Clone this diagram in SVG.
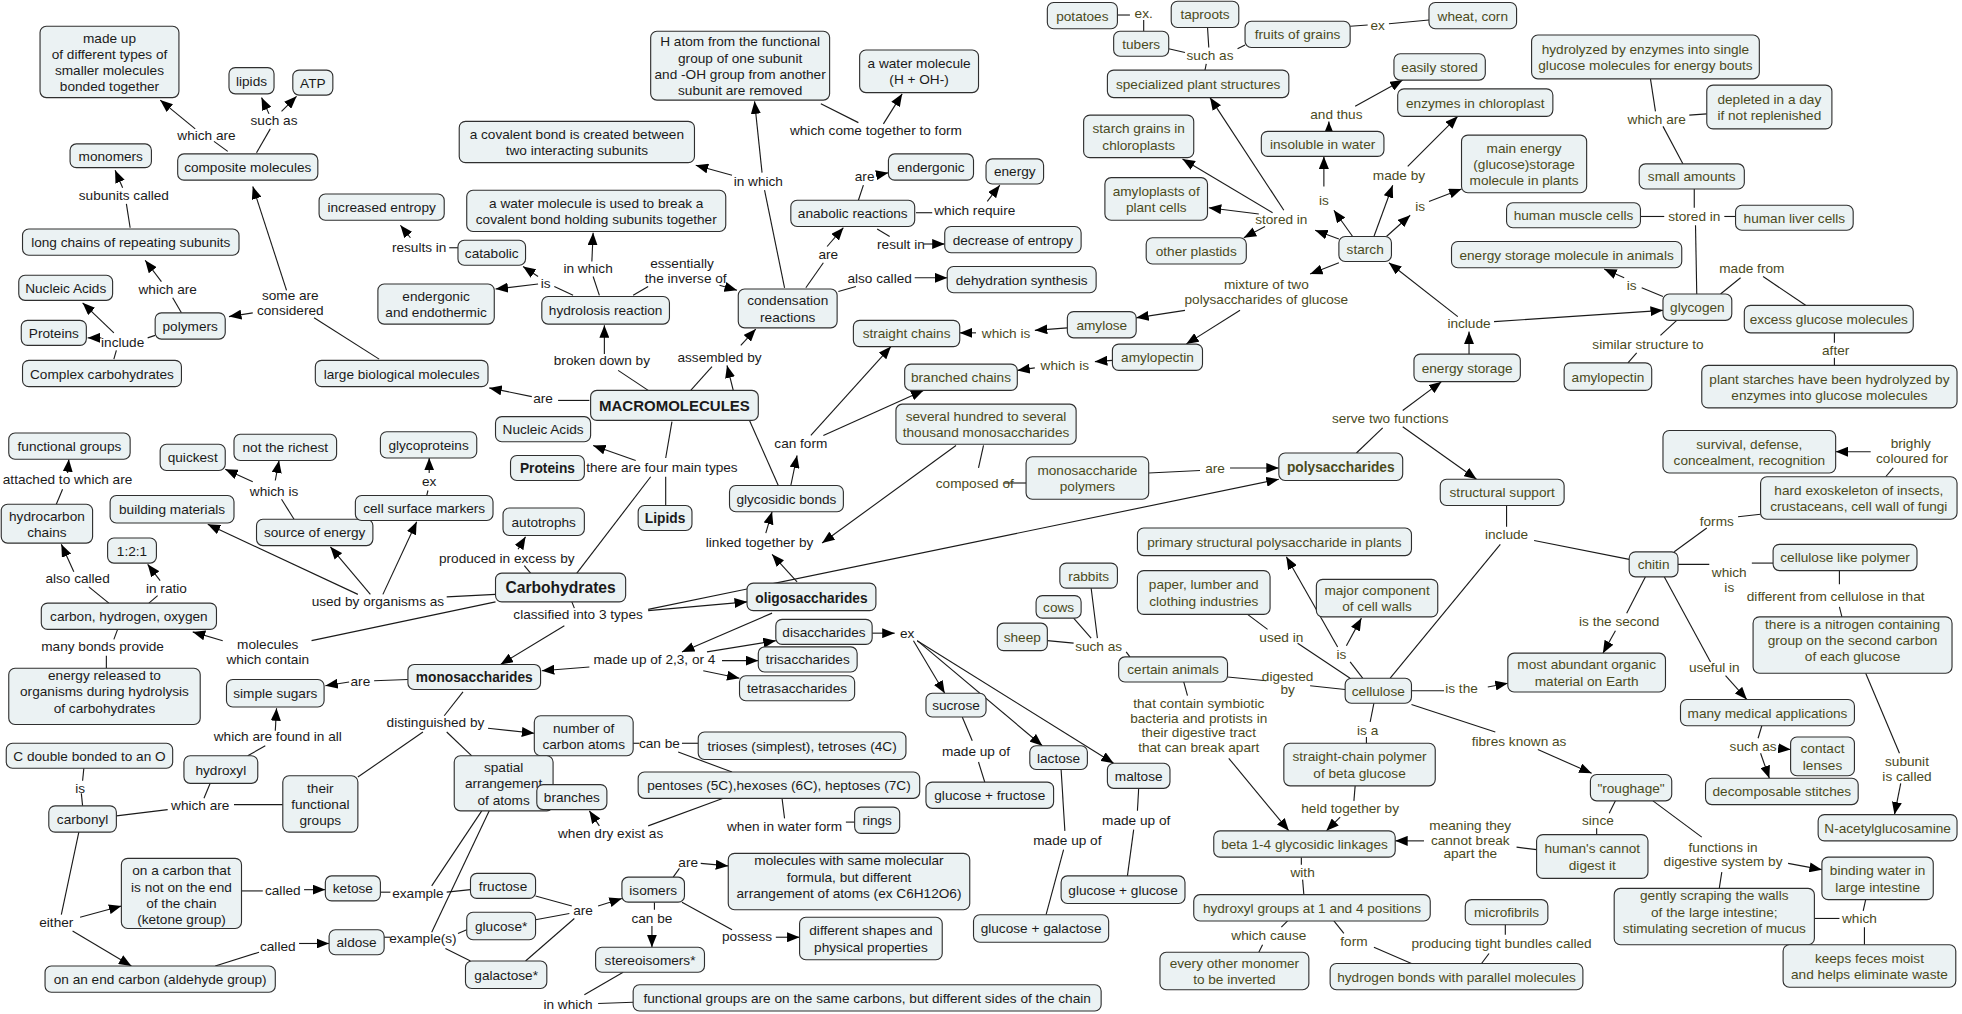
<svg xmlns="http://www.w3.org/2000/svg" width="1962" height="1014" viewBox="0 0 1962 1014">
<style>
.n rect{fill:#ebf2f3;stroke:#2f2f2f;stroke-width:0.9}
text{font-family:"Liberation Sans",Arial,sans-serif;font-size:10.9px;fill:#1a1a1a;text-anchor:middle}
.o text,text.o{fill:#4a4a1c}
.b text{font-weight:bold;font-size:12px}
#connectors path{fill:none;stroke:#1a1a1a;stroke-width:0.9}
#connectors path.a{marker-end:url(#ah)}
</style>
<defs><marker id="ah" markerUnits="userSpaceOnUse" markerWidth="10" markerHeight="8" refX="10" refY="4" orient="auto"><path d="M0,0 L10,4 L0,8 z" fill="#000"/></marker></defs>
<rect width="1962" height="1014" fill="#fff"/>
<g transform="scale(1.2513)">
<g id="connectors">
<path d="M182,121L171,113"/><path class="a" d="M156,103L128,80"/>
<path d="M205,122L216,103"/><path class="a" d="M215,91L209,78"/><path class="a" d="M225,89L237,77"/>
<path d="M104,182L101,163"/><path class="a" d="M98,150L92,136"/>
<path d="M145,250L138,238"/><path class="a" d="M129,225L116,208"/>
<path d="M124,268L118,270"/><path class="a" d="M91,266L66,242"/><path class="a" d="M81,270L70,270"/><path d="M91,287L93,280"/>
<path d="M303,287L251,254"/><path class="a" d="M229,232L202,149"/><path class="a" d="M202,250L183,253"/>
<path d="M366,198L359,198"/><path class="a" d="M328,190L320,180"/>
<path d="M458,236L443,229"/><path class="a" d="M430,221L418,213"/><path class="a" d="M430,227L396,231"/>
<path d="M479,236L474,221"/><path class="a" d="M473,209L474,186"/>
<path d="M506,236L518,229"/><path class="a" d="M575,228L589,232"/>
<path d="M518,312L494,296"/><path class="a" d="M483,283L483,260"/>
<path d="M471,320L446,320"/><path class="a" d="M425,317L391,310"/>
<path d="M552,312L569,293"/><path class="a" d="M586,312L581,292"/><path class="a" d="M592,276L604,263"/>
<path d="M627,230L611,152"/><path class="a" d="M609,138L603,81"/><path class="a" d="M585,140L556,132"/>
<path d="M656,83L686,98"/><path class="a" d="M706,99L721,75"/>
<path d="M644,230L658,210"/><path class="a" d="M661,197L674,182"/>
<path d="M686,160L690,148"/><path class="a" d="M700,140L710,138"/>
<path d="M732,170L745,170"/><path class="a" d="M789,161L799,148"/>
<path d="M701,183L711,189"/><path class="a" d="M738,195L755,195"/>
<path d="M670,233L684,229"/><path class="a" d="M731,222L757,222"/>
<path d="M537,337L532,366"/><path class="a" d="M508,368L474,356"/><path d="M532,381L532,404"/><path d="M520,381L461,458"/>
<path d="M599,336L622,388"/><path class="a" d="M632,388L637,364"/><path class="a" d="M648,348L712,277"/><path class="a" d="M658,348L738,312"/>
<path class="a" d="M637,465L617,443"/><path class="a" d="M612,426L617,409"/><path class="a" d="M764,356L657,434"/>
<path d="M786,356L782,374"/><path d="M802,386L820,386"/>
<path d="M918,378L959,376"/><path class="a" d="M983,374L1022,374"/>
<path class="a" d="M518,487L1022,383"/><path class="a" d="M518,488L597,481"/><path class="a" d="M451,500L400,531"/><path d="M457,481L459,486"/>
<path d="M45,403L50,391"/><path class="a" d="M54,378L55,367"/>
<path d="M235,415L225,399"/><path class="a" d="M202,385L180,375"/><path class="a" d="M220,384L223,368"/>
<path d="M341,396L342,392"/><path class="a" d="M343,378L343,366"/>
<path d="M396,475L357,477"/><path class="a" d="M286,475L166,419"/><path class="a" d="M296,475L264,437"/><path class="a" d="M306,475L333,417"/>
<path d="M424,458L419,452"/><path class="a" d="M414,439L420,429"/>
<path d="M396,481L249,512"/><path class="a" d="M178,512L154,505"/>
<path d="M87,482L71,469"/><path class="a" d="M59,457L49,435"/>
<path d="M119,482L126,476"/><path class="a" d="M128,464L118,451"/>
<path d="M94,503L91,511"/><path d="M85,524L85,534"/>
<path d="M326,543L299,544"/><path class="a" d="M279,545L260,548"/>
<path d="M370,553L355,572"/><path class="a" d="M390,582L427,586"/><path d="M357,585L377,604"/><path d="M338,585L286,621"/>
<path d="M198,604L212,596"/><path class="a" d="M220,584L221,566"/>
<path d="M93,652L134,647"/><path d="M187,643L226,643"/><path d="M163,638L168,626"/>
<path d="M67,614L66,624"/><path d="M65,634L66,644"/>
<path d="M63,665L49,731"/><path class="a" d="M64,733L97,724"/><path class="a" d="M58,744L105,772"/>
<path d="M193,712L210,712"/><path class="a" d="M243,711L260,711"/>
<path d="M172,772L207,761"/><path class="a" d="M239,754L263,754"/>
<path d="M304,713L312,713"/><path d="M357,713L376,711"/><path d="M345,708L385,648"/>
<path d="M307,749L312,749"/><path d="M366,746L373,743"/><path d="M356,758L376,768"/><path d="M345,745L391,648"/>
<path d="M428,716L457,724"/><path d="M428,735L455,730"/><path d="M420,768L459,734"/><path class="a" d="M478,724L497,718"/>
<path d="M506,594L511,594"/><path d="M545,594L558,594"/><path d="M542,601L585,617"/>
<path d="M625,638L627,654"/><path d="M676,657L683,657"/>
<path d="M578,638L518,660"/><path class="a" d="M479,660L471,648"/>
<path d="M538,701L543,694"/><path class="a" d="M560,690L582,692"/>
<path d="M523,721L523,727"/><path class="a" d="M521,740L521,757"/>
<path d="M545,721L585,743"/><path class="a" d="M620,749L639,749"/>
<path d="M498,777L467,795"/><path d="M478,802L506,801"/>
<path class="a" d="M697,506L715,506"/><path class="a" d="M730,512L755,554"/><path class="a" d="M733,512L833,596"/><path class="a" d="M733,512L890,610"/>
<path class="a" d="M617,490L545,521"/><path class="a" d="M565,521L620,512"/><path class="a" d="M577,528L606,528"/><path class="a" d="M562,536L591,542"/><path class="a" d="M471,533L433,536"/>
<path d="M769,573L777,592"/><path d="M782,609L787,625"/>
<path d="M848,615L851,664"/><path d="M850,679L836,731"/>
<path d="M910,630L909,648"/><path d="M906,663L901,700"/>
<path d="M837,512L858,514"/><path d="M858,494L872,510"/><path d="M872,470L877,510"/><path d="M900,521L903,525"/>
<path d="M946,545L949,556"/><path class="a" d="M982,606L1030,664"/>
<path d="M981,541L1012,544"/><path d="M1047,548L1075,551"/>
<path d="M997,491L1013,503"/><path d="M1037,514L1079,542"/>
<path d="M1089,542L1079,529"/><path class="a" d="M1076,516L1088,494"/><path class="a" d="M1069,517L1028,445"/>
<path d="M1204,404L1204,421"/><path d="M1226,432L1302,447"/><path d="M1199,435L1111,542"/>
<path d="M1128,552L1154,552"/><path class="a" d="M1189,549L1205,546"/>
<path d="M1098,562L1095,577"/><path d="M1092,589L1092,594"/>
<path d="M1083,628L1082,640"/><path class="a" d="M1071,653L1060,664"/>
<path d="M1128,563L1195,585"/><path class="a" d="M1229,599L1272,618"/>
<path d="M1291,640L1286,650"/><path d="M1276,662L1276,667"/>
<path d="M1228,679L1212,677"/><path class="a" d="M1138,672L1115,672"/>
<path d="M1321,640L1360,669"/><path class="a" d="M1429,690L1456,695"/><path d="M1376,697L1374,710"/>
<path d="M1491,719L1489,728"/><path d="M1450,734L1470,734"/><path d="M1490,741L1490,755"/>
<path d="M1338,441L1364,422"/><path d="M1389,413L1407,411"/>
<path d="M1507,381L1513,374"/><path class="a" d="M1495,361L1467,361"/>
<path d="M1341,451L1366,451"/><path d="M1400,450L1417,450"/>
<path d="M1470,456L1470,467"/><path d="M1470,485L1472,493"/>
<path d="M1491,538L1518,602"/><path class="a" d="M1519,626L1514,651"/>
<path d="M1315,461L1300,490"/><path class="a" d="M1291,504L1281,522"/>
<path d="M1330,461L1367,529"/><path class="a" d="M1379,540L1396,559"/>
<path d="M1408,580L1405,590"/><path class="a" d="M1421,598L1431,599"/><path class="a" d="M1407,602L1414,622"/>
<path d="M1040,685L1040,691"/><path d="M1041,703L1042,715"/>
<path d="M1029,736L1024,741"/><path d="M1009,755L1006,761"/>
<path d="M1066,736L1074,746"/><path d="M1098,757L1128,770"/>
<path d="M1203,739L1203,747"/><path d="M1190,762L1184,770"/>
<path d="M893,12L903,12"/><path d="M914,25L914,16"/>
<path d="M934,39L947,42"/><path d="M965,22L966,38"/><path d="M995,36L989,39"/><path d="M964,51L963,56"/>
<path d="M1079,21L1093,20"/><path d="M1110,19L1142,16"/>
<path class="a" d="M1070,191L1051,184"/><path class="a" d="M1026,168L967,78"/><path class="a" d="M1017,170L945,127"/><path class="a" d="M1006,171L966,166"/><path class="a" d="M1011,181L994,190"/>
<path class="a" d="M1081,189L1066,168"/><path class="a" d="M1058,149L1058,125"/>
<path class="a" d="M1062,105L1062,97"/><path class="a" d="M1083,85L1121,64"/>
<path class="a" d="M1098,189L1113,148"/><path class="a" d="M1125,133L1165,93"/>
<path class="a" d="M1108,189L1127,172"/><path class="a" d="M1142,161L1168,151"/>
<path class="a" d="M1070,210L1047,219"/><path class="a" d="M947,248L908,254"/><path class="a" d="M991,248L948,275"/>
<path class="a" d="M853,262L827,264"/><path class="a" d="M780,266L767,266"/>
<path class="a" d="M889,288L875,289"/><path class="a" d="M827,294L813,296"/>
<path class="a" d="M1174,283L1174,265"/><path class="a" d="M1165,253L1110,210"/><path class="a" d="M1194,257L1329,248"/>
<path d="M1084,362L1105,342"/><path class="a" d="M1121,328L1152,305"/><path class="a" d="M1121,341L1180,383"/>
<path d="M1329,237L1312,230"/><path class="a" d="M1298,222L1282,215"/>
<path d="M1340,256L1327,268"/><path d="M1308,282L1301,290"/>
<path d="M1375,235L1391,222"/><path d="M1409,221L1443,244"/>
<path d="M1466,266L1466,274"/><path d="M1466,286L1466,292"/>
<path d="M1311,173L1330,173"/><path d="M1378,173L1387,173"/><path d="M1354,151L1354,166"/><path d="M1355,180L1356,235"/>
<path d="M1319,63L1323,89"/><path d="M1329,101L1345,131"/><path d="M1350,92L1364,91"/>
</g>
<g id="link-labels">
<text x="165" y="112">which are</text><text x="219" y="100">such as</text><text x="99" y="160">subunits called</text>
<text x="134" y="235">which are</text><text x="98" y="277">include</text>
<text x="232" y="240">some are</text><text x="232" y="252">considered</text>
<text x="335" y="201">results in</text><text x="436" y="230">is</text><text x="470" y="218">in which</text>
<text x="545" y="214">essentially</text><text x="548" y="226">the inverse of</text>
<text x="481" y="292">broken down by</text><text x="434" y="322">are</text><text x="575" y="289">assembled by</text>
<text x="606" y="149">in which</text><text x="700" y="108">which come together to form</text>
<text x="662" y="207">are</text><text x="691" y="145">are</text><text x="779" y="172">which require</text>
<text x="720" y="199">result in</text><text x="703" y="226">also called</text>
<text x="529" y="377">there are four main types</text><text x="640" y="358">can form</text><text x="607" y="437">linked together by</text>
<text class="o" x="779" y="390">composed of</text><text class="o" x="971" y="378">are</text>
<text class="o" x="804" y="270">which is</text><text class="o" x="851" y="296">which is</text>
<text class="o" x="1012" y="231">mixture of two</text><text class="o" x="1012" y="243">polysaccharides of glucose</text>
<text class="o" x="1024" y="179">stored in</text><text class="o" x="914" y="14">ex.</text><text class="o" x="967" y="48">such as</text>
<text class="o" x="1101" y="24">ex</text><text class="o" x="1058" y="164">is</text><text class="o" x="1068" y="95">and thus</text>
<text class="o" x="1118" y="144">made by</text><text class="o" x="1135" y="169">is</text><text class="o" x="1174" y="262">include</text>
<text class="o" x="1111" y="338">serve two functions</text><text class="o" x="1324" y="99">which are</text><text class="o" x="1354" y="177">stored in</text>
<text class="o" x="1304" y="232">is</text><text class="o" x="1400" y="218">made from</text><text class="o" x="1317" y="279">similar structure to</text>
<text class="o" x="1467" y="284">after</text><text class="o" x="1527" y="358">brighly</text><text class="o" x="1528" y="370">coloured for</text>
<text x="54" y="387">attached to which are</text><text x="219" y="396">which is</text><text x="343" y="388">ex</text>
<text x="302" y="484">used by organisms as</text><text x="405" y="450">produced in excess by</text><text x="462" y="495">classified into 3 types</text>
<text x="214" y="519">molecules</text><text x="214" y="531">which contain</text>
<text x="62" y="466">also called</text><text x="133" y="474">in ratio</text><text x="82" y="520">many bonds provide</text>
<text x="288" y="548">are</text><text x="348" y="581">distinguished by</text><text x="222" y="592">which are found in all</text>
<text x="160" y="647">which are</text><text x="64" y="634">is</text><text x="45" y="741">either</text>
<text x="226" y="715">called</text><text x="222" y="760">called</text><text x="334" y="718">example</text><text x="338" y="754">example(s)</text>
<text x="466" y="731">are</text><text x="527" y="598">can be</text><text x="627" y="664">when in water form</text><text x="488" y="670">when dry exist as</text>
<text x="550" y="693">are</text><text x="521" y="738">can be</text><text x="597" y="752">possess</text><text x="454" y="806">in which</text>
<text x="725" y="510">ex</text><text x="523" y="531">made up of 2,3, or 4</text>
<text x="780" y="604">made up of</text><text x="853" y="675">made up of</text><text x="908" y="659">made up of</text>
<text class="o" x="878" y="520">such as</text>
<text class="o" x="958" y="566">that contain symbiotic</text><text class="o" x="958" y="578">bacteria and protists in</text><text class="o" x="958" y="589">their digestive tract</text><text class="o" x="958" y="601">that can break apart</text>
<text class="o" x="1029" y="544">digested</text><text class="o" x="1029" y="555">by</text>
<text class="o" x="1024" y="513">used in</text><text class="o" x="1072" y="527">is</text><text class="o" x="1204" y="431">include</text>
<text class="o" x="1168" y="554">is the</text><text class="o" x="1093" y="587">is a</text><text class="o" x="1079" y="650">held together by</text>
<text class="o" x="1277" y="659">since</text>
<text class="o" x="1175" y="663">meaning they</text><text class="o" x="1175" y="675">cannot break</text><text class="o" x="1175" y="686">apart the</text>
<text class="o" x="1214" y="596">fibres known as</text>
<text class="o" x="1377" y="681">functions in</text><text class="o" x="1377" y="692">digestive system by</text>
<text class="o" x="1486" y="738">which</text><text class="o" x="1372" y="420">forms</text>
<text class="o" x="1382" y="461">which</text><text class="o" x="1382" y="473">is</text>
<text class="o" x="1467" y="480">different from cellulose in that</text>
<text class="o" x="1524" y="612">subunit</text><text class="o" x="1524" y="624">is called</text>
<text class="o" x="1294" y="500">is the second</text><text class="o" x="1370" y="537">useful in</text><text class="o" x="1401" y="600">such as</text>
<text class="o" x="1041" y="701">with</text><text class="o" x="1014" y="751">which cause</text><text class="o" x="1082" y="756">form</text>
<text class="o" x="1200" y="758">producing tight bundles called</text>
</g>
<g id="n1" class="n"><rect x="32" y="21" width="111" height="57" rx="5"/><text x="87.5" y="34">made up</text><text x="87.5" y="47">of different types of</text><text x="87.5" y="60">smaller molecules</text><text x="87.5" y="73">bonded together</text></g>
<g id="n2" class="n"><rect x="183" y="54" width="36" height="21" rx="5"/><text x="201" y="68.5">lipids</text></g>
<g id="n3" class="n"><rect x="234" y="56" width="32" height="20" rx="5"/><text x="250" y="70">ATP</text></g>
<g id="n4" class="n"><rect x="142" y="123" width="112" height="21" rx="5"/><text x="198" y="137.5">composite molecules</text></g>
<g id="n5" class="n"><rect x="56" y="115" width="65" height="19" rx="5"/><text x="88.5" y="128.5">monomers</text></g>
<g id="n6" class="n"><rect x="18" y="183" width="173" height="21" rx="5"/><text x="104.5" y="197.5">long chains of repeating subunits</text></g>
<g id="n7" class="n"><rect x="15" y="220" width="75" height="20" rx="5"/><text x="52.5" y="234">Nucleic Acids</text></g>
<g id="n8" class="n"><rect x="17" y="256" width="52" height="20" rx="5"/><text x="43" y="270">Proteins</text></g>
<g id="n9" class="n"><rect x="124" y="250" width="56" height="21" rx="5"/><text x="152" y="264.5">polymers</text></g>
<g id="n10" class="n"><rect x="18" y="288" width="127" height="21" rx="5"/><text x="81.5" y="302.5">Complex carbohydrates</text></g>
<g id="n11" class="n"><rect x="252" y="288" width="138" height="21" rx="5"/><text x="321" y="302.5">large biological molecules</text></g>
<g id="n12" class="n"><rect x="520" y="25" width="143" height="55" rx="5"/><text x="591.5" y="37">H atom from the functional</text><text x="591.5" y="50">group of one subunit</text><text x="591.5" y="63">and -OH group from another</text><text x="591.5" y="76">subunit are removed</text></g>
<g id="n13" class="n"><rect x="687" y="40" width="95" height="34" rx="5"/><text x="734.5" y="54.5">a water molecule</text><text x="734.5" y="67.5">(H + OH-)</text></g>
<g id="n14" class="n"><rect x="367" y="97" width="188" height="33" rx="5"/><text x="461" y="111">a covalent bond is created between</text><text x="461" y="124">two interacting subunits</text></g>
<g id="n15" class="n"><rect x="373" y="152" width="207" height="33" rx="5"/><text x="476.5" y="166">a water molecule is used to break a</text><text x="476.5" y="179">covalent bond holding subunits together</text></g>
<g id="n16" class="n"><rect x="255" y="155" width="100" height="21" rx="5"/><text x="305" y="169.5">increased entropy</text></g>
<g id="n17" class="n"><rect x="366" y="192" width="54" height="20" rx="5"/><text x="393" y="206">catabolic</text></g>
<g id="n18" class="n"><rect x="302" y="227" width="93" height="32" rx="5"/><text x="348.5" y="240.5">endergonic</text><text x="348.5" y="253.5">and endothermic</text></g>
<g id="n19" class="n"><rect x="433" y="237" width="102" height="22" rx="5"/><text x="484" y="252">hydrolosis reaction</text></g>
<g id="n20" class="n"><rect x="590" y="231" width="79" height="31" rx="5"/><text x="629.5" y="244">condensation</text><text x="629.5" y="257">reactions</text></g>
<g id="n21" class="n"><rect x="632" y="160" width="99" height="21" rx="5"/><text x="681.5" y="174.5">anabolic reactions</text></g>
<g id="n22" class="n"><rect x="710" y="123" width="68" height="21" rx="5"/><text x="744" y="137.5">endergonic</text></g>
<g id="n23" class="n"><rect x="788" y="127" width="46" height="20" rx="5"/><text x="811" y="141">energy</text></g>
<g id="n24" class="n"><rect x="755" y="181" width="109" height="21" rx="5"/><text x="809.5" y="195.5">decrease of entropy</text></g>
<g id="n25" class="n"><rect x="757" y="213" width="119" height="21" rx="5"/><text x="816.5" y="227.5">dehydration synthesis</text></g>
<g id="n26" class="n b"><rect x="472" y="312" width="134" height="24" rx="5"/><text x="539" y="328.5">MACROMOLECULES</text></g>
<g id="n27" class="n"><rect x="396" y="333" width="76" height="20" rx="5"/><text x="434" y="347">Nucleic Acids</text></g>
<g id="n28" class="n b"><rect x="408" y="364" width="59" height="20" rx="5"/><text x="437.5" y="378" style="font-size:11px">Proteins</text></g>
<g id="n29" class="n b"><rect x="510" y="404" width="43" height="20" rx="5"/><text x="531.5" y="418" style="font-size:11px">Lipids</text></g>
<g id="n30" class="n"><rect x="583" y="388" width="91" height="21" rx="5"/><text x="628.5" y="402.5">glycosidic bonds</text></g>
<g id="n31" class="n o"><rect x="682" y="256" width="85" height="21" rx="5"/><text x="724.5" y="270.5">straight chains</text></g>
<g id="n32" class="n o"><rect x="723" y="291" width="90" height="21" rx="5"/><text x="768" y="305.5">branched chains</text></g>
<g id="n33" class="n o"><rect x="716" y="323" width="144" height="32" rx="5"/><text x="788" y="336.5">several hundred to several</text><text x="788" y="349.5">thousand monosaccharides</text></g>
<g id="n34" class="n o"><rect x="820" y="365" width="98" height="34" rx="5"/><text x="869" y="379.5">monosaccharide</text><text x="869" y="392.5">polymers</text></g>
<g id="n35" class="n o b"><rect x="1022" y="362" width="99" height="22" rx="5"/><text x="1071.5" y="377" style="font-size:11px">polysaccharides</text></g>
<g id="n36" class="n o"><rect x="853" y="249" width="55" height="21" rx="5"/><text x="880.5" y="263.5">amylose</text></g>
<g id="n37" class="n o"><rect x="889" y="275" width="72" height="21" rx="5"/><text x="925" y="289.5">amylopectin</text></g>
<g id="n38" class="n o"><rect x="837" y="2" width="56" height="21" rx="5"/><text x="865" y="16.5">potatoes</text></g>
<g id="n39" class="n o"><rect x="936" y="1" width="54" height="21" rx="5"/><text x="963" y="15.5">taproots</text></g>
<g id="n40" class="n o"><rect x="890" y="25" width="44" height="20" rx="5"/><text x="912" y="39">tubers</text></g>
<g id="n41" class="n o"><rect x="995" y="17" width="84" height="21" rx="5"/><text x="1037" y="31.5">fruits of grains</text></g>
<g id="n42" class="n o"><rect x="1142" y="2" width="70" height="21" rx="5"/><text x="1177" y="16.5">wheat, corn</text></g>
<g id="n43" class="n o"><rect x="885" y="56" width="145" height="22" rx="5"/><text x="957.5" y="71">specialized plant structures</text></g>
<g id="n44" class="n o"><rect x="866" y="92" width="88" height="34" rx="5"/><text x="910" y="106.5">starch grains in</text><text x="910" y="119.5">chloroplasts</text></g>
<g id="n45" class="n o"><rect x="883" y="142" width="82" height="34" rx="5"/><text x="924" y="156.5">amyloplasts of</text><text x="924" y="169.5">plant cells</text></g>
<g id="n46" class="n o"><rect x="916" y="190" width="80" height="21" rx="5"/><text x="956" y="204.5">other plastids</text></g>
<g id="n47" class="n o"><rect x="1008" y="105" width="98" height="20" rx="5"/><text x="1057" y="119">insoluble in water</text></g>
<g id="n48" class="n o"><rect x="1114" y="43" width="73" height="21" rx="5"/><text x="1150.5" y="57.5">easily stored</text></g>
<g id="n49" class="n o"><rect x="1117" y="71" width="124" height="22" rx="5"/><text x="1179" y="86">enzymes in chloroplast</text></g>
<g id="n50" class="n o"><rect x="1168" y="108" width="100" height="46" rx="5"/><text x="1218" y="122">main energy</text><text x="1218" y="135">(glucose)storage</text><text x="1218" y="148">molecule in plants</text></g>
<g id="n51" class="n o"><rect x="1070" y="189" width="42" height="20" rx="5"/><text x="1091" y="203">starch</text></g>
<g id="n52" class="n o"><rect x="1224" y="28" width="182" height="35" rx="5"/><text x="1315" y="43">hydrolyzed by enzymes into single</text><text x="1315" y="56">glucose molecules for energy bouts</text></g>
<g id="n53" class="n o"><rect x="1364" y="68" width="100" height="35" rx="5"/><text x="1414" y="83">depleted in a day</text><text x="1414" y="96">if not replenished</text></g>
<g id="n54" class="n o"><rect x="1310" y="131" width="84" height="20" rx="5"/><text x="1352" y="145">small amounts</text></g>
<g id="n55" class="n o"><rect x="1204" y="162" width="107" height="20" rx="5"/><text x="1257.5" y="176">human muscle cells</text></g>
<g id="n56" class="n o"><rect x="1387" y="164" width="94" height="20" rx="5"/><text x="1434" y="178">human liver cells</text></g>
<g id="n57" class="n o"><rect x="1160" y="193" width="184" height="21" rx="5"/><text x="1252" y="207.5">energy storage molecule in animals</text></g>
<g id="n58" class="n o"><rect x="1329" y="235" width="55" height="21" rx="5"/><text x="1356.5" y="249.5">glycogen</text></g>
<g id="n59" class="n o"><rect x="1394" y="244" width="135" height="22" rx="5"/><text x="1461.5" y="259">excess glucose molecules</text></g>
<g id="n60" class="n o"><rect x="1250" y="290" width="70" height="22" rx="5"/><text x="1285" y="305">amylopectin</text></g>
<g id="n61" class="n o"><rect x="1360" y="292" width="204" height="34" rx="5"/><text x="1462" y="306.5">plant starches have been hydrolyzed by</text><text x="1462" y="319.5">enzymes into glucose molecules</text></g>
<g id="n62" class="n o"><rect x="1130" y="283" width="85" height="22" rx="5"/><text x="1172.5" y="298">energy storage</text></g>
<g id="n63" class="n o"><rect x="1151" y="383" width="99" height="21" rx="5"/><text x="1200.5" y="397.5">structural support</text></g>
<g id="n64" class="n o"><rect x="1329" y="344" width="138" height="34" rx="5"/><text x="1398" y="358.5">survival, defense,</text><text x="1398" y="371.5">concealment, recognition</text></g>
<g id="n65" class="n o"><rect x="1407" y="381" width="157" height="34" rx="5"/><text x="1485.5" y="395.5">hard exoskeleton of insects,</text><text x="1485.5" y="408.5">crustaceans, cell wall of fungi</text></g>
<g id="n66" class="n"><rect x="7" y="346" width="97" height="21" rx="5"/><text x="55.5" y="360.5">functional groups</text></g>
<g id="n67" class="n"><rect x="128" y="355" width="52" height="21" rx="5"/><text x="154" y="369.5">quickest</text></g>
<g id="n68" class="n"><rect x="187" y="347" width="82" height="21" rx="5"/><text x="228" y="361.5">not the richest</text></g>
<g id="n69" class="n"><rect x="304" y="345" width="77" height="21" rx="5"/><text x="342.5" y="359.5">glycoproteins</text></g>
<g id="n70" class="n"><rect x="1" y="403" width="73" height="31" rx="5"/><text x="37.5" y="416">hydrocarbon</text><text x="37.5" y="429">chains</text></g>
<g id="n71" class="n"><rect x="88" y="396" width="99" height="22" rx="5"/><text x="137.5" y="411">building materials</text></g>
<g id="n72" class="n"><rect x="205" y="415" width="93" height="21" rx="5"/><text x="251.5" y="429.5">source of energy</text></g>
<g id="n73" class="n"><rect x="284" y="396" width="110" height="20" rx="5"/><text x="339" y="410">cell surface markers</text></g>
<g id="n74" class="n"><rect x="402" y="406" width="65" height="22" rx="5"/><text x="434.5" y="421">autotrophs</text></g>
<g id="n75" class="n"><rect x="86" y="430" width="39" height="20" rx="5"/><text x="105.5" y="444">1:2:1</text></g>
<g id="n76" class="n b"><rect x="396" y="458" width="104" height="23" rx="5"/><text x="448" y="474" style="font-size:12.5px">Carbohydrates</text></g>
<g id="n77" class="n"><rect x="33" y="482" width="140" height="21" rx="5"/><text x="103" y="496.5">carbon, hydrogen, oxygen</text></g>
<g id="n78" class="n"><rect x="7" y="534" width="153" height="45" rx="5"/><text x="83.5" y="543.5">energy released to</text><text x="83.5" y="556.5">organisms during hydrolysis</text><text x="83.5" y="569.5">of carbohydrates</text></g>
<g id="n79" class="n b"><rect x="597" y="466" width="103" height="22" rx="5"/><text x="648.5" y="481.5" style="font-size:11px">oligosaccharides</text></g>
<g id="n80" class="n"><rect x="620" y="495" width="77" height="20" rx="5"/><text x="658.5" y="509">disaccharides</text></g>
<g id="n81" class="n"><rect x="606" y="517" width="79" height="20" rx="5"/><text x="645.5" y="531">trisaccharides</text></g>
<g id="n82" class="n"><rect x="591" y="540" width="92" height="20" rx="5"/><text x="637" y="554">tetrasaccharides</text></g>
<g id="n83" class="n b"><rect x="326" y="531" width="106" height="20" rx="5"/><text x="379" y="545" style="font-size:11px">monosaccharides</text></g>
<g id="n84" class="n"><rect x="181" y="543" width="78" height="22" rx="5"/><text x="220" y="558">simple sugars</text></g>
<g id="n85" class="n"><rect x="5" y="594" width="133" height="20" rx="5"/><text x="71.5" y="608">C double bonded to an O</text></g>
<g id="n86" class="n"><rect x="147" y="604" width="59" height="22" rx="5"/><text x="176.5" y="619">hydroxyl</text></g>
<g id="n87" class="n"><rect x="39" y="644" width="54" height="21" rx="5"/><text x="66" y="658.5">carbonyl</text></g>
<g id="n88" class="n"><rect x="226" y="620" width="60" height="45" rx="5"/><text x="256" y="633.5">their</text><text x="256" y="646.5">functional</text><text x="256" y="659.5">groups</text></g>
<g id="n89" class="n"><rect x="427" y="572" width="79" height="32" rx="5"/><text x="466.5" y="585.5">number of</text><text x="466.5" y="598.5">carbon atoms</text></g>
<g id="n90" class="n"><rect x="363" y="604" width="79" height="44" rx="5"/><text x="402.5" y="617">spatial</text><text x="402.5" y="630">arrangement</text><text x="402.5" y="643">of atoms</text></g>
<g id="n91" class="n"><rect x="429" y="627" width="56" height="20" rx="5"/><text x="457" y="641">branches</text></g>
<g id="n92" class="n"><rect x="558" y="585" width="166" height="22" rx="5"/><text x="641" y="600">trioses (simplest), tetroses (4C)</text></g>
<g id="n93" class="n"><rect x="510" y="617" width="225" height="21" rx="5"/><text x="622.5" y="631.5">pentoses (5C),hexoses (6C), heptoses (7C)</text></g>
<g id="n94" class="n"><rect x="683" y="645" width="36" height="21" rx="5"/><text x="701" y="659.5">rings</text></g>
<g id="n95" class="n"><rect x="97" y="686" width="96" height="56" rx="5"/><text x="145" y="699.5">on a carbon that</text><text x="145" y="712.5">is not on the end</text><text x="145" y="725.5">of the chain</text><text x="145" y="738.5">(ketone group)</text></g>
<g id="n96" class="n"><rect x="260" y="700" width="44" height="20" rx="5"/><text x="282" y="714">ketose</text></g>
<g id="n97" class="n"><rect x="36" y="772" width="184" height="21" rx="5"/><text x="128" y="786.5">on an end carbon (aldehyde group)</text></g>
<g id="n98" class="n"><rect x="263" y="743" width="44" height="20" rx="5"/><text x="285" y="757">aldose</text></g>
<g id="n99" class="n"><rect x="376" y="698" width="52" height="20" rx="5"/><text x="402" y="712">fructose</text></g>
<g id="n100" class="n"><rect x="373" y="729" width="55" height="22" rx="5"/><text x="400.5" y="744">glucose*</text></g>
<g id="n101" class="n"><rect x="372" y="768" width="65" height="22" rx="5"/><text x="404.5" y="783">galactose*</text></g>
<g id="n102" class="n"><rect x="497" y="701" width="50" height="20" rx="5"/><text x="522" y="715">isomers</text></g>
<g id="n103" class="n"><rect x="582" y="682" width="193" height="45" rx="5"/><text x="678.5" y="691.5">molecules with same molecular</text><text x="678.5" y="704.5">formula, but different</text><text x="678.5" y="717.5">arrangement of atoms (ex C6H12O6)</text></g>
<g id="n104" class="n"><rect x="476" y="757" width="87" height="20" rx="5"/><text x="519.5" y="771">stereoisomers*</text></g>
<g id="n105" class="n"><rect x="639" y="733" width="114" height="34" rx="5"/><text x="696" y="747.5">different shapes and</text><text x="696" y="760.5">physical properties</text></g>
<g id="n106" class="n"><rect x="506" y="787" width="374" height="21" rx="5"/><text x="693" y="801.5">functional groups are on the same carbons, but different sides of the chain</text></g>
<g id="n107" class="n"><rect x="740" y="554" width="48" height="19" rx="5"/><text x="764" y="567.5">sucrose</text></g>
<g id="n108" class="n"><rect x="740" y="625" width="102" height="21" rx="5"/><text x="791" y="639.5">glucose + fructose</text></g>
<g id="n109" class="n"><rect x="823" y="596" width="46" height="19" rx="5"/><text x="846" y="609.5">lactose</text></g>
<g id="n110" class="n"><rect x="885" y="610" width="50" height="20" rx="5"/><text x="910" y="624">maltose</text></g>
<g id="n111" class="n"><rect x="778" y="731" width="108" height="22" rx="5"/><text x="832" y="746">glucose + galactose</text></g>
<g id="n112" class="n"><rect x="848" y="700" width="99" height="22" rx="5"/><text x="897.5" y="715">glucose + glucose</text></g>
<g id="n113" class="n o"><rect x="909" y="422" width="219" height="22" rx="5"/><text x="1018.5" y="437">primary structural polysaccharide in plants</text></g>
<g id="n114" class="n o"><rect x="847" y="450" width="46" height="20" rx="5"/><text x="870" y="464">rabbits</text></g>
<g id="n115" class="n o"><rect x="828" y="476" width="36" height="18" rx="5"/><text x="846" y="489">cows</text></g>
<g id="n116" class="n o"><rect x="909" y="456" width="106" height="35" rx="5"/><text x="962" y="471">paper, lumber and</text><text x="962" y="484">clothing industries</text></g>
<g id="n117" class="n o"><rect x="1052" y="463" width="97" height="30" rx="5"/><text x="1100.5" y="475.5">major component</text><text x="1100.5" y="488.5">of cell walls</text></g>
<g id="n118" class="n o"><rect x="797" y="498" width="40" height="22" rx="5"/><text x="817" y="513">sheep</text></g>
<g id="n119" class="n o"><rect x="894" y="525" width="87" height="20" rx="5"/><text x="937.5" y="539">certain animals</text></g>
<g id="n120" class="n o"><rect x="1075" y="542" width="53" height="20" rx="5"/><text x="1101.5" y="556">cellulose</text></g>
<g id="n121" class="n o"><rect x="1302" y="441" width="39" height="20" rx="5"/><text x="1321.5" y="455">chitin</text></g>
<g id="n122" class="n o"><rect x="1417" y="435" width="115" height="21" rx="5"/><text x="1474.5" y="449.5">cellulose like polymer</text></g>
<g id="n123" class="n o"><rect x="1401" y="493" width="159" height="45" rx="5"/><text x="1480.5" y="502.5">there is a nitrogen containing</text><text x="1480.5" y="515.5">group on the second carbon</text><text x="1480.5" y="528.5">of each glucose</text></g>
<g id="n124" class="n o"><rect x="1205" y="522" width="126" height="31" rx="5"/><text x="1268" y="535">most abundant organic</text><text x="1268" y="548">material on Earth</text></g>
<g id="n125" class="n o"><rect x="1343" y="559" width="139" height="21" rx="5"/><text x="1412.5" y="573.5">many medical applications</text></g>
<g id="n126" class="n o"><rect x="1431" y="589" width="51" height="31" rx="5"/><text x="1456.5" y="602">contact</text><text x="1456.5" y="615">lenses</text></g>
<g id="n127" class="n o"><rect x="1363" y="622" width="122" height="21" rx="5"/><text x="1424" y="636.5">decomposable stitches</text></g>
<g id="n128" class="n o"><rect x="1453" y="651" width="111" height="21" rx="5"/><text x="1508.5" y="665.5">N-acetylglucosamine</text></g>
<g id="n129" class="n o"><rect x="1026" y="594" width="121" height="34" rx="5"/><text x="1086.5" y="608.5">straight-chain polymer</text><text x="1086.5" y="621.5">of beta glucose</text></g>
<g id="n130" class="n o"><rect x="1271" y="619" width="65" height="21" rx="5"/><text x="1303.5" y="633.5">"roughage"</text></g>
<g id="n131" class="n o"><rect x="970" y="664" width="145" height="21" rx="5"/><text x="1042.5" y="678.5">beta 1-4 glycosidic linkages</text></g>
<g id="n132" class="n o"><rect x="1228" y="667" width="89" height="35" rx="5"/><text x="1272.5" y="682">human's cannot</text><text x="1272.5" y="695">digest it</text></g>
<g id="n133" class="n o"><rect x="954" y="715" width="189" height="21" rx="5"/><text x="1048.5" y="729.5">hydroxyl groups at 1 and 4 positions</text></g>
<g id="n134" class="n o"><rect x="1171" y="719" width="66" height="20" rx="5"/><text x="1204" y="733">microfibrils</text></g>
<g id="n135" class="n o"><rect x="927" y="761" width="119" height="30" rx="5"/><text x="986.5" y="773.5">every other monomer</text><text x="986.5" y="786.5">to be inverted</text></g>
<g id="n136" class="n o"><rect x="1063" y="770" width="202" height="21" rx="5"/><text x="1164" y="784.5">hydrogen bonds with parallel molecules</text></g>
<g id="n137" class="n o"><rect x="1290" y="710" width="160" height="45" rx="5"/><text x="1370" y="719.5">gently scraping the walls</text><text x="1370" y="732.5">of the large intestine;</text><text x="1370" y="745.5">stimulating secretion of mucus</text></g>
<g id="n138" class="n o"><rect x="1456" y="685" width="89" height="34" rx="5"/><text x="1500.5" y="699.5">binding water in</text><text x="1500.5" y="712.5">large intestine</text></g>
<g id="n139" class="n o"><rect x="1425" y="755" width="138" height="34" rx="5"/><text x="1494" y="769.5">keeps feces moist</text><text x="1494" y="782.5">and helps eliminate waste</text></g>
</g>
</svg>
